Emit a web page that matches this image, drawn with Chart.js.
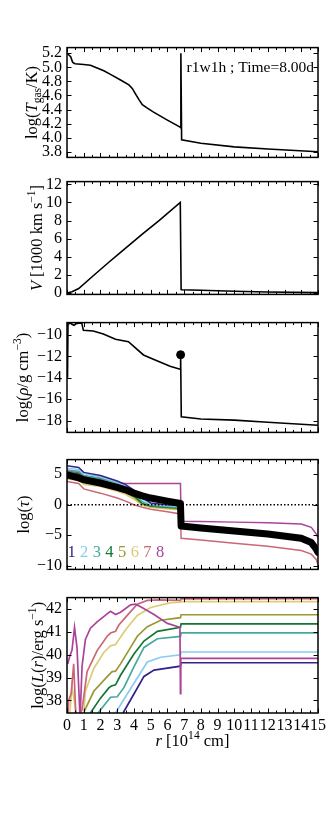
<!DOCTYPE html>
<html>
<head>
<meta charset="utf-8">
<script src="https://cdn.jsdelivr.net/npm/chart.js@4.4.0/dist/chart.umd.min.js"></script>
<style>
html, body { margin: 0; padding: 0; background: #fff; }
#wrap { position: relative; width: 335px; height: 838px; overflow: hidden; }
canvas { position: absolute; left: 0; }
</style>
</head>
<body>
<div id="wrap">
  <canvas id="c1" width="335" height="139" style="top:33px"></canvas>
  <canvas id="c2" width="335" height="142" style="top:167px"></canvas>
  <canvas id="c3" width="335" height="139" style="top:308px"></canvas>
  <canvas id="c4" width="335" height="139" style="top:445px"></canvas>
  <canvas id="c5" width="335" height="180" style="top:583px"></canvas>
</div>
<script>
// ====================
// axis ticks
// ====================
const xTicks = [0, 1, 2, 3, 4, 5, 6, 7, 8, 9, 10, 11, 12, 13, 14, 15];
const tempTicks = [3.8, 4.0, 4.2, 4.4, 4.6, 4.8, 5.0, 5.2];
const velTicks = [0, 2, 4, 6, 8, 10, 12];
const densTicks = [-18, -16, -14, -12, -10];
const tauTicks = [-10, -5, 0, 5];
const lumTicks = [38, 39, 40, 41, 42];

// ====================
// panel 1: log T_gas
// ====================
const tempR   = [0, 0.22, 0.34, 0.48, 1.0, 1.4, 1.8, 2.2, 2.6, 3.2, 3.7, 3.9, 4.1, 4.3, 4.5, 4.8, 5.2, 6.0, 6.76, 6.8, 6.81, 6.85, 8, 10, 12, 15];
const tempLog = [5.2, 5.15, 5.07, 5.05, 5.04, 5.03, 4.99, 4.95, 4.90, 4.82, 4.75, 4.70, 4.62, 4.54, 4.47, 4.42, 4.36, 4.25, 4.15, 4.14, 5.2, 3.97, 3.92, 3.87, 3.84, 3.80];

// ====================
// panel 2: velocity
// ====================
const velR = [0, 0.3, 0.7, 1.5, 2.5, 3.2, 4.5, 5.5, 6.77, 6.82, 6.85, 8, 10, 12, 15];
const velV = [0, 0.15, 0.5, 1.8, 3.4, 4.5, 6.5, 8.0, 10.0, 0.4, 0.37, 0.3, 0.2, 0.12, 0.05];

// ====================
// panel 3: log density
// ====================
const densR   = [0.03, 0.06, 0.2, 0.3, 0.42, 0.55, 0.68, 0.88, 0.98, 1.57, 2.17, 2.9, 3.67, 4.57, 5.16, 6.16, 6.76, 6.79, 6.83, 8, 10, 12, 15];
const densLog = [-14.0, -9.0, -8.9, -9.0, -9.1, -8.95, -8.9, -8.9, -9.57, -9.63, -9.91, -10.4, -10.63, -11.87, -12.27, -12.93, -13.2, -11.85, -17.65, -17.85, -17.95, -18.15, -18.43];
const dotR   = [6.79];
const dotLog = [-11.85];

// ====================
// panel 4: log tau
// ====================
const tauR    = [0, 0.7, 1.0, 2, 3, 3.5, 4, 4.5, 5, 6, 6.78, 6.82, 8, 10, 12, 14, 14.6, 14.9, 15];
const tauMean = [4.9, 4.4, 4.1, 3.55, 2.85, 2.45, 1.9, 1.45, 1.1, 0.6, 0.2, -3.5, -3.8, -4.3, -4.8, -5.5, -6.2, -7.3, -7.8];
const tau1 = [6.4, 6.1, 5.3, 4.8, 3.9, 3.3, 2.4, 1.2, 0.3, 0.0, -0.15, -3.4, -3.7, -4.2, -4.7, -5.4, -6.1, -7.2, -7.7];
const tau2 = [6.0, 5.8, 5.1, 4.6, 3.7, 3.0, 2.1, 0.9, 0.1, -0.15, -0.3, -3.45, -3.75, -4.25, -4.75, -5.45, -6.15, -7.25, -7.75];
const tau3 = [5.7, 5.5, 4.8, 4.4, 3.5, 2.8, 1.8, 0.5, -0.1, -0.3, -0.45, -3.5, -3.8, -4.3, -4.8, -5.5, -6.2, -7.3, -7.8];
const tau4 = [5.3, 5.1, 4.5, 4.1, 3.2, 2.5, 1.5, 0.2, -0.2, -0.4, -0.55, -3.55, -3.85, -4.35, -4.85, -5.55, -6.25, -7.35, -7.85];
const tau5 = [4.6, 4.4, 3.7, 3.3, 2.5, 2.0, 1.2, 0.1, -0.3, -0.55, -0.7, -3.6, -3.9, -4.4, -4.9, -5.6, -6.3, -7.4, -7.9];
const tau6 = [4.2, 4.0, 3.3, 3.0, 2.2, 1.7, 0.9, -0.1, -0.45, -0.7, -0.85, -3.65, -3.95, -4.45, -4.95, -5.65, -6.35, -7.45, -7.95];
const tau7 = [3.8, 3.5, 2.6, 1.9, 1.1, 0.6, 0.0, -0.4, -0.75, -1.15, -1.5, -5.5, -5.8, -6.3, -6.8, -7.5, -8.1, -9.0, -9.8];
const tau8 = [5.5, 5.3, 4.7, 4.3, 3.6, 3.5, 3.5, 3.5, 3.5, 3.5, 3.5, -2.7, -2.75, -2.85, -2.95, -3.15, -3.7, -4.8, -5.5];
const tauZeroR = [0, 15];
const tauZero  = [0, 0];

// ====================
// panel 5: log L(r)
// ====================
const lumR1 = [3.35, 4.0, 4.6, 5.2, 6.78, 6.82, 15];
const lum1  = [37.45, 38.28, 39.05, 39.33, 39.5, 39.65, 39.65];
const lumR2 = [2.9, 3.6, 4.2, 4.8, 5.6, 6.78, 6.82, 15];
const lum2  = [37.45, 38.28, 38.98, 39.68, 39.89, 40.0, 40.12, 40.12];
const lumR3 = [1.85, 2.6, 3.0, 3.4, 4.0, 4.6, 5.4, 6.78, 6.82, 15];
const lum3  = [37.45, 38.14, 38.16, 38.56, 39.47, 40.32, 40.7, 40.8, 40.96, 40.96];
const lumR4 = [1.4, 2.0, 2.5, 2.65, 2.9, 3.2, 4.0, 4.6, 5.4, 6.78, 6.82, 15];
const lum4  = [37.45, 38.1, 38.55, 38.63, 38.68, 39.1, 40.03, 40.6, 41.02, 41.2, 41.35, 41.35];
const lumR5 = [0.95, 1.6, 2.5, 2.7, 2.9, 3.2, 3.8, 4.2, 4.8, 5.6, 6.78, 6.82, 15];
const lum5  = [37.4, 38.4, 39.12, 39.26, 39.28, 39.6, 40.32, 40.81, 41.23, 41.51, 41.62, 41.75, 41.75];
const lumR6 = [0.15, 0.3, 0.45, 0.6, 1.0, 1.1, 1.6, 2.2, 2.6, 2.9, 3.5, 4.2, 5.0, 6.2, 6.78, 6.82, 15];
const lum6  = [37.3, 38.6, 37.9, 37.2, 37.4, 38.4, 39.4, 40.1, 40.39, 40.45, 41.09, 41.72, 42.07, 42.28, 42.3, 42.32, 42.32];
const lumR7 = [0.05, 0.1, 0.25, 0.4, 0.55, 0.9, 1.2, 1.8, 2.4, 2.6, 2.9, 3.1, 3.6, 4.2, 4.8, 5.5, 6.78, 6.82, 15];
const lum7  = [37.3, 38.0, 38.3, 39.6, 37.0, 37.6, 39.26, 40.18, 40.81, 40.95, 41.02, 41.3, 41.72, 42.21, 42.38, 42.4, 42.38, 42.44, 42.45];
const lumR8 = [0.05, 0.15, 0.3, 0.45, 0.6, 0.78, 0.9, 1.1, 1.4, 1.8, 2.4, 2.6, 2.9, 3.2, 3.8, 4.1, 4.4, 5.2, 6.0, 6.75, 6.78, 6.8, 15];
const lum8  = [39.6, 39.9, 40.2, 41.2, 40.3, 37.2, 39.5, 40.67, 41.16, 41.44, 41.79, 41.9, 41.76, 41.86, 42.18, 42.21, 42.1, 41.76, 41.37, 41.2, 38.3, 39.84, 39.84];

// ====================
// styling
// ====================
const bandColors = ["#332288", "#88CCEE", "#44AA99", "#117733", "#999933", "#DDCC77", "#CC6677", "#AA4499"];
const bandNames = ["1", "2", "3", "4", "5", "6", "7", "8"];
const serif = '"Liberation Serif", "DejaVu Serif", serif';
Chart.defaults.color = "#000";
Chart.defaults.font.family = serif;

function pts(xs, ys) { return xs.map((x, i) => ({ x: x, y: ys[i] })); }
function minus(v) { return String(v).replace("-", "\u2212"); }

// text with italic / sub / sup pieces
function richText(ctx, segs, x, y, size, rotate) {
    const fontOf = s => (s.i ? "italic " : "") + ((s.sub || s.sup) ? size * 0.7 : size) + "px " + serif;
    let w = 0;
    segs.forEach(s => { ctx.font = fontOf(s); w += ctx.measureText(s.t).width; });
    ctx.save();
    ctx.translate(x, y);
    if (rotate) ctx.rotate(-Math.PI / 2);
    ctx.textAlign = "left";
    ctx.textBaseline = "alphabetic";
    let cx = -w / 2;
    const base = rotate ? size * 0.33 : 0;
    segs.forEach(s => {
        ctx.font = fontOf(s);
        const dy = s.sub ? size * 0.25 : (s.sup ? -size * 0.4 : 0);
        ctx.fillText(s.t, cx, base + dy);
        cx += ctx.measureText(s.t).width;
    });
    ctx.restore();
}

// frame, inward ticks, labels
const framePlugin = {
    id: "frame",
    afterDraw(chart, args, opts) {
        const ctx = chart.ctx, a = chart.chartArea;
        const xs = chart.scales.x, ys = chart.scales.y;
        ctx.save();
        ctx.strokeStyle = "#000";
        ctx.lineWidth = 1;
        ctx.beginPath();
        xTicks.forEach((v, i) => {
            const px = Math.round(xs.getPixelForValue(v)) + 0.5;
            ctx.moveTo(px, a.bottom); ctx.lineTo(px, a.bottom - 4.5);
            ctx.moveTo(px, a.top); ctx.lineTo(px, a.top + 4.5);
            if (i < xTicks.length - 1) {
                const pm = Math.round(xs.getPixelForValue((v + xTicks[i + 1]) / 2)) + 0.5;
                ctx.moveTo(pm, a.bottom); ctx.lineTo(pm, a.bottom - 2.5);
                ctx.moveTo(pm, a.top); ctx.lineTo(pm, a.top + 2.5);
            }
        });
        ys.ticks.forEach(t => {
            const py = Math.round(ys.getPixelForValue(t.value)) + 0.5;
            ctx.moveTo(a.left, py); ctx.lineTo(a.left + 4.5, py);
            ctx.moveTo(a.right, py); ctx.lineTo(a.right - 4.5, py);
        });
        ctx.stroke();
        ctx.lineWidth = 1.5;
        ctx.strokeRect(a.left, a.top, a.right - a.left, a.bottom - a.top);
        ctx.fillStyle = "#000";
        richText(ctx, opts.title, opts.titleX, (a.top + a.bottom) / 2, 16.5, true);
        if (opts.xTitle) richText(ctx, opts.xTitle, (a.left + a.right) / 2, a.bottom + 33, 16.5, false);
        (opts.notes || []).forEach(n => {
            ctx.font = n.size + "px " + serif;
            ctx.fillStyle = n.color || "#000";
            ctx.textAlign = n.align || "left";
            ctx.textBaseline = "alphabetic";
            ctx.fillText(n.text, n.fromRight ? a.right - n.dx : a.left + n.dx, n.fromBottom ? a.bottom - n.dy : a.top + n.dy);
        });
        ctx.restore();
    }
};

function makePanel(id, datasets, yMin, yMax, yTicks, fmt, frame, showX) {
    const c = document.getElementById(id);
    return new Chart(c, {
        type: "line",
        data: { datasets: datasets },
        plugins: [framePlugin],
        options: {
            responsive: false,
            animation: false,
            events: [],
            layout: { padding: { top: 10, bottom: showX ? 0 : 10, left: 0, right: 17 } },
            elements: { point: { radius: 0 }, line: { tension: 0 } },
            plugins: { legend: { display: false }, tooltip: { enabled: false }, frame: frame },
            scales: {
                x: {
                    type: "linear", min: 0, max: 15,
                    display: showX,
                    grid: { display: false, drawTicks: false },
                    border: { display: false },
                    afterBuildTicks: s => { s.ticks = xTicks.map(v => ({ value: v })); },
                    afterFit: s => { if (showX) s.height = 50; },
                    ticks: { autoSkip: false, maxRotation: 0, padding: 3, font: { size: 16 } }
                },
                y: {
                    type: "linear", min: yMin, max: yMax,
                    grid: { display: false, drawTicks: false },
                    border: { display: false },
                    afterBuildTicks: s => { s.ticks = yTicks.map(v => ({ value: v })); },
                    afterFit: s => { s.width = 67; },
                    ticks: { autoSkip: false, padding: 5, font: { size: 16 }, callback: fmt }
                }
            }
        }
    });
}

const blackLine = (xs, ys) => ({ data: pts(xs, ys), borderColor: "#000", borderWidth: 1.6, pointRadius: 0 });

// panel 1
makePanel("c1", [blackLine(tempR, tempLog)], 3.72, 5.28, tempTicks, v => v.toFixed(1), {
    titleX: 31.5,
    title: [{ t: "log(" }, { t: "T", i: 1 }, { t: "gas", sub: 1 }, { t: "/K)" }],
    notes: [{ text: "r1w1h ; Time=8.00d", size: 15.5, align: "right", fromRight: 1, dx: 4, dy: 24 }]
}, false);

// panel 2
makePanel("c2", [blackLine(velR, velV)], -0.15, 12.3, velTicks, v => minus(v), {
    titleX: 36.5,
    title: [{ t: "V", i: 1 }, { t: " [1000 km s" }, { t: "\u22121", sup: 1 }, { t: "]" }]
}, false);

// panel 3
makePanel("c3", [
    { data: pts(dotR, dotLog), borderColor: "#000", backgroundColor: "#000", showLine: false, pointRadius: 4 },
    blackLine(densR, densLog)
], -19.1, -8.85, densTicks, v => minus(v), {
    titleX: 22.5,
    title: [{ t: "log(" }, { t: "\u03c1", i: 1 }, { t: "/g cm" }, { t: "\u22123", sup: 1 }, { t: ")" }]
}, false);

// panel 4
const tauSeries = [tau1, tau2, tau3, tau4, tau5, tau6, tau7, tau8];
const tauSets = [
    { data: pts(tauR, tauMean), borderColor: "#000", borderWidth: 7, borderCapStyle: "round", borderJoinStyle: "round" },
    { data: pts(tauZeroR, tauZero), borderColor: "#000", borderWidth: 1.3, borderDash: [1.5, 2] }
].concat(tauSeries.map((s, i) => ({ data: pts(tauR, s), borderColor: bandColors[i], borderWidth: 1.5 })));
makePanel("c4", tauSets, -10.6, 7.4, tauTicks, v => minus(v), {
    titleX: 24,
    title: [{ t: "log(" }, { t: "\u03c4", i: 1 }, { t: ")" }],
    notes: bandNames.map((n, i) => ({ text: n, size: 16.5, color: bandColors[i], align: "center", dx: 4.5 + i * 12.65, fromBottom: 1, dy: 12.5 }))
}, false);

// panel 5
const lumX = [lumR1, lumR2, lumR3, lumR4, lumR5, lumR6, lumR7, lumR8];
const lumY = [lum1, lum2, lum3, lum4, lum5, lum6, lum7, lum8];
const lumSets = lumX.map((xs, i) => ({ data: pts(xs, lumY[i]), borderColor: bandColors[i], borderWidth: 1.7, order: 8 - i }));
makePanel("c5", lumSets, 37.45, 42.5, lumTicks, v => minus(v), {
    titleX: 37.5,
    title: [{ t: "log(" }, { t: "L", i: 1 }, { t: "(" }, { t: "r", i: 1 }, { t: ")/erg s" }, { t: "\u22121", sup: 1 }, { t: ")" }],
    xTitle: [{ t: "r", i: 1 }, { t: " [10" }, { t: "14", sup: 1 }, { t: " cm]" }]
}, true);
</script>
</body>
</html>
